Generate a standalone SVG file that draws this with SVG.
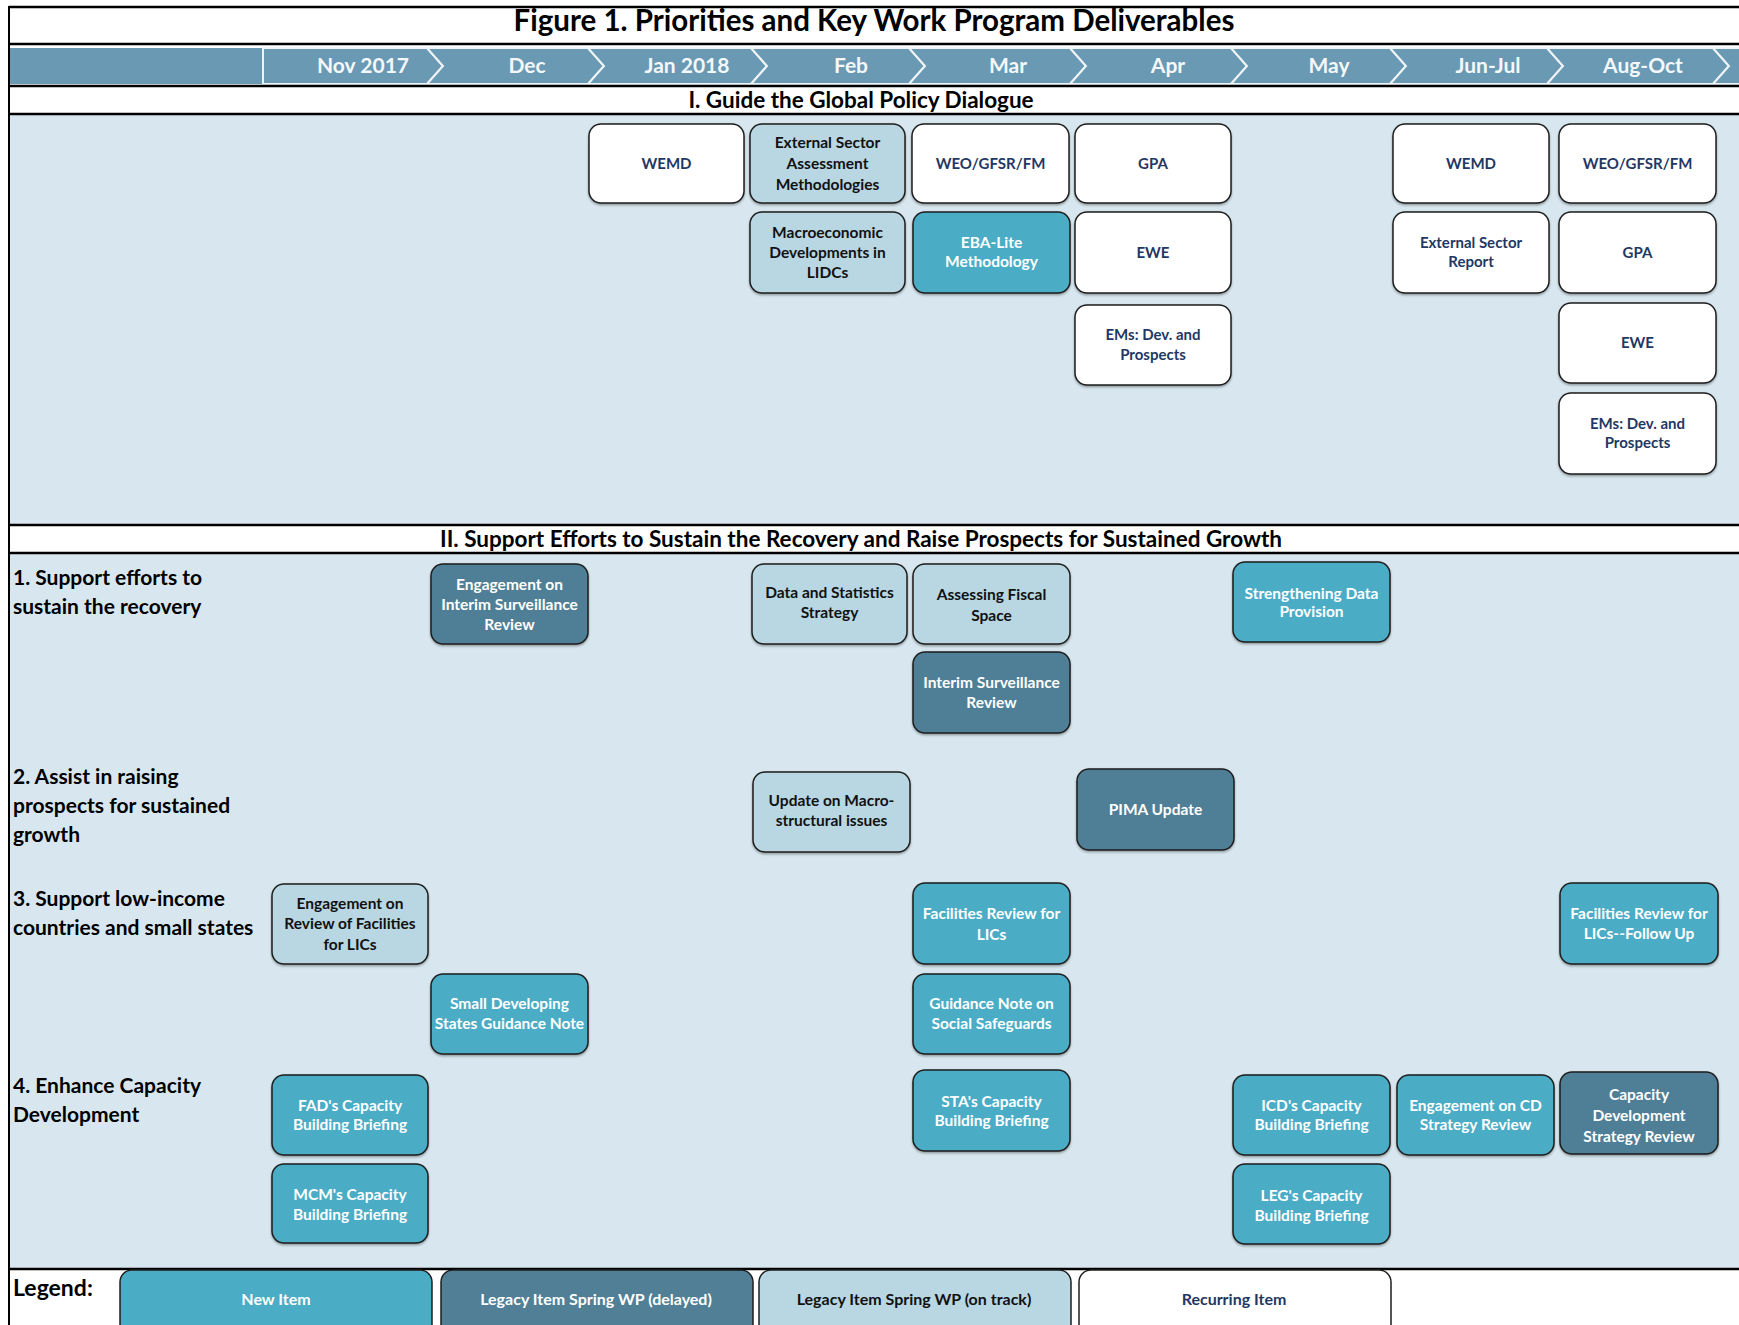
<svg xmlns="http://www.w3.org/2000/svg" width="1739" height="1325" viewBox="0 0 1739 1325">
<style>
text{font-family:Lato,"Open Sans","Liberation Sans",sans-serif;font-weight:bold}
.ttl{font-size:29.5px;fill:#000}
.mon{font-size:21px;fill:#f4f8fa;text-anchor:middle}
.sec{font-size:22.5px;fill:#000;text-anchor:middle}
.row{font-size:21px;fill:#000}
.box{stroke:#1e1e1e;stroke-width:1.5}
.new{fill:#4bacc6}
.del{fill:#507f96}
.ont{fill:#b8d7e2}
.rec{fill:#ffffff}
.lb{font-size:15.5px;text-anchor:middle}
.tw{fill:#ffffff}
.tk{fill:#111111}
.tn{fill:#1f3864;font-size:15px}
.leg{font-size:16px;text-anchor:middle}
.chev{fill:#6a99b3;stroke:#eef4f7;stroke-width:2}
.ln{stroke:#000;stroke-width:2.5;fill:none}
</style>
<defs>
<filter id="sh" x="-5%" y="-5%" width="110%" height="115%">
<feDropShadow dx="0" dy="1.5" stdDeviation="0.8" flood-color="#000" flood-opacity="0.35"/>
</filter>
</defs>
<g id="background">
<rect x="0" y="0" width="1739" height="1325" fill="#ffffff"/>
<rect x="9" y="115" width="1730" height="410" fill="#d8e7ef"/>
<rect x="9" y="553" width="1730" height="716" fill="#d8e7ef"/>
</g>
<g id="month-bar">
<rect x="9" y="48" width="254" height="36" fill="#6a99b3"/>
<polygon class="chev" points="263,48 427,48 443,66 427,84 263,84"/>
<polygon class="chev" points="427,48 588,48 604,66 588,84 427,84 443,66"/>
<polygon class="chev" points="588,48 751,48 767,66 751,84 588,84 604,66"/>
<polygon class="chev" points="751,48 909,48 925,66 909,84 751,84 767,66"/>
<polygon class="chev" points="909,48 1070,48 1086,66 1070,84 909,84 925,66"/>
<polygon class="chev" points="1070,48 1231,48 1247,66 1231,84 1070,84 1086,66"/>
<polygon class="chev" points="1231,48 1390,48 1406,66 1390,84 1231,84 1247,66"/>
<polygon class="chev" points="1390,48 1547,48 1563,66 1547,84 1390,84 1406,66"/>
<polygon class="chev" points="1547,48 1713,48 1729,66 1713,84 1547,84 1563,66"/>
<polygon class="chev" points="1713,48 1745,48 1745,84 1713,84 1729,66"/>
<text class="mon" x="363" y="73">Nov 2017</text>
<text class="mon" x="527" y="73">Dec</text>
<text class="mon" x="687" y="73">Jan 2018</text>
<text class="mon" x="851" y="73">Feb</text>
<text class="mon" x="1008" y="73">Mar</text>
<text class="mon" x="1168" y="73">Apr</text>
<text class="mon" x="1329" y="73">May</text>
<text class="mon" x="1488" y="73">Jun-Jul</text>
<text class="mon" x="1643" y="73">Aug-Oct</text>
</g>
<g id="frame">
<line class="ln" x1="9" y1="7" x2="1739" y2="7"/>
<line class="ln" x1="9" y1="44" x2="1739" y2="44"/>
<line class="ln" x1="9" y1="86" x2="1739" y2="86"/>
<line class="ln" x1="9" y1="114" x2="1739" y2="114"/>
<line class="ln" x1="9" y1="525" x2="1739" y2="525"/>
<line class="ln" x1="9" y1="553" x2="1739" y2="553"/>
<line class="ln" x1="9" y1="1269" x2="1739" y2="1269"/>
<line x1="9" y1="6" x2="9" y2="1325" stroke="#000" stroke-width="2"/>
</g>
<g id="headers">
<text class="ttl" x="874" y="31" text-anchor="middle">Figure 1. Priorities and Key Work Program Deliverables</text>
<text class="sec" x="861" y="108">I. Guide the Global Policy Dialogue</text>
<text class="sec" x="861" y="547">II. Support Efforts to Sustain the Recovery and Raise Prospects for Sustained Growth</text>
</g>
<g id="row-labels">
<text class="row" x="13" y="585">1. Support efforts to</text>
<text class="row" x="13" y="614">sustain the recovery</text>
<text class="row" x="13" y="784">2. Assist in raising</text>
<text class="row" x="13" y="813">prospects for sustained</text>
<text class="row" x="13" y="842">growth</text>
<text class="row" x="13" y="906">3. Support low-income</text>
<text class="row" x="13" y="935">countries and small states</text>
<text class="row" x="13" y="1093">4. Enhance Capacity</text>
<text class="row" x="13" y="1122">Development</text>
</g>
<g id="nodes">
<g id="n1"><rect class="box rec" filter="url(#sh)" x="589" y="124" width="155" height="79" rx="12"/><text class="lb tn" x="666.5" y="168.5">WEMD</text></g>
<g id="n2"><rect class="box ont" filter="url(#sh)" x="750" y="124" width="155" height="79" rx="12"/><text class="lb tk" x="827.5" y="148">External Sector</text><text class="lb tk" x="827.5" y="169">Assessment</text><text class="lb tk" x="827.5" y="190">Methodologies</text></g>
<g id="n3"><rect class="box rec" filter="url(#sh)" x="912" y="124" width="157" height="79" rx="12"/><text class="lb tn" x="990.5" y="168.5">WEO/GFSR/FM</text></g>
<g id="n4"><rect class="box rec" filter="url(#sh)" x="1075" y="124" width="156" height="79" rx="12"/><text class="lb tn" x="1153" y="168.5">GPA</text></g>
<g id="n5"><rect class="box rec" filter="url(#sh)" x="1393" y="124" width="156" height="79" rx="12"/><text class="lb tn" x="1471" y="168.5">WEMD</text></g>
<g id="n6"><rect class="box rec" filter="url(#sh)" x="1559" y="124" width="157" height="79" rx="12"/><text class="lb tn" x="1637.5" y="168.5">WEO/GFSR/FM</text></g>
<g id="n7"><rect class="box ont" filter="url(#sh)" x="750" y="212" width="155" height="81" rx="12"/><text class="lb tk" x="827.5" y="238">Macroeconomic</text><text class="lb tk" x="827.5" y="257.5">Developments in</text><text class="lb tk" x="827.5" y="277.5">LIDCs</text></g>
<g id="n8"><rect class="box new" filter="url(#sh)" x="913" y="212" width="157" height="81" rx="12"/><text class="lb tw" x="991.5" y="248">EBA-Lite</text><text class="lb tw" x="991.5" y="267">Methodology</text></g>
<g id="n9"><rect class="box rec" filter="url(#sh)" x="1075" y="212" width="156" height="81" rx="12"/><text class="lb tn" x="1153" y="257.5">EWE</text></g>
<g id="n10"><rect class="box rec" filter="url(#sh)" x="1393" y="212" width="156" height="81" rx="12"/><text class="lb tn" x="1471" y="248">External Sector</text><text class="lb tn" x="1471" y="267">Report</text></g>
<g id="n11"><rect class="box rec" filter="url(#sh)" x="1559" y="212" width="157" height="81" rx="12"/><text class="lb tn" x="1637.5" y="257.5">GPA</text></g>
<g id="n12"><rect class="box rec" filter="url(#sh)" x="1075" y="305" width="156" height="80" rx="12"/><text class="lb tn" x="1153" y="340">EMs: Dev. and</text><text class="lb tn" x="1153" y="360">Prospects</text></g>
<g id="n13"><rect class="box rec" filter="url(#sh)" x="1559" y="303" width="157" height="80" rx="12"/><text class="lb tn" x="1637.5" y="348">EWE</text></g>
<g id="n14"><rect class="box rec" filter="url(#sh)" x="1559" y="393" width="157" height="81" rx="12"/><text class="lb tn" x="1637.5" y="429">EMs: Dev. and</text><text class="lb tn" x="1637.5" y="447.5">Prospects</text></g>
<g id="n15"><rect class="box del" filter="url(#sh)" x="431" y="564" width="157" height="80" rx="12"/><text class="lb tw" x="509.5" y="589.5">Engagement on</text><text class="lb tw" x="509.5" y="609.5">Interim Surveillance</text><text class="lb tw" x="509.5" y="629.5">Review</text></g>
<g id="n16"><rect class="box ont" filter="url(#sh)" x="752" y="564" width="155" height="80" rx="12"/><text class="lb tk" x="829.5" y="598">Data and Statistics</text><text class="lb tk" x="829.5" y="618">Strategy</text></g>
<g id="n17"><rect class="box ont" filter="url(#sh)" x="913" y="564" width="157" height="80" rx="12"/><text class="lb tk" x="991.5" y="599.5">Assessing Fiscal</text><text class="lb tk" x="991.5" y="620.5">Space</text></g>
<g id="n18"><rect class="box new" filter="url(#sh)" x="1233" y="562" width="157" height="80" rx="12"/><text class="lb tw" x="1311.5" y="598.5">Strengthening Data</text><text class="lb tw" x="1311.5" y="617">Provision</text></g>
<g id="n19"><rect class="box del" filter="url(#sh)" x="913" y="652" width="157" height="81" rx="12"/><text class="lb tw" x="991.5" y="688">Interim Surveillance</text><text class="lb tw" x="991.5" y="708">Review</text></g>
<g id="n20"><rect class="box ont" filter="url(#sh)" x="753" y="772" width="157" height="80" rx="12"/><text class="lb tk" x="831.5" y="806">Update on Macro-</text><text class="lb tk" x="831.5" y="826">structural issues</text></g>
<g id="n21"><rect class="box del" filter="url(#sh)" x="1077" y="769" width="157" height="81" rx="12"/><text class="lb tw" x="1155.5" y="814.5">PIMA Update</text></g>
<g id="n22"><rect class="box ont" filter="url(#sh)" x="272" y="884" width="156" height="80" rx="12"/><text class="lb tk" x="350" y="909">Engagement on</text><text class="lb tk" x="350" y="929">Review of Facilities</text><text class="lb tk" x="350" y="950">for LICs</text></g>
<g id="n23"><rect class="box new" filter="url(#sh)" x="913" y="883" width="157" height="81" rx="12"/><text class="lb tw" x="991.5" y="919">Facilities Review for</text><text class="lb tw" x="991.5" y="940">LICs</text></g>
<g id="n24"><rect class="box new" filter="url(#sh)" x="1560" y="883" width="158" height="81" rx="12"/><text class="lb tw" x="1639" y="919">Facilities Review for</text><text class="lb tw" x="1639" y="939">LICs--Follow Up</text></g>
<g id="n25"><rect class="box new" filter="url(#sh)" x="431" y="974" width="157" height="80" rx="12"/><text class="lb tw" x="509.5" y="1009">Small Developing</text><text class="lb tw" x="509.5" y="1029">States Guidance Note</text></g>
<g id="n26"><rect class="box new" filter="url(#sh)" x="913" y="974" width="157" height="80" rx="12"/><text class="lb tw" x="991.5" y="1009">Guidance Note on</text><text class="lb tw" x="991.5" y="1029">Social Safeguards</text></g>
<g id="n27"><rect class="box new" filter="url(#sh)" x="272" y="1075" width="156" height="80" rx="12"/><text class="lb tw" x="350" y="1111">FAD's Capacity</text><text class="lb tw" x="350" y="1130">Building Briefing</text></g>
<g id="n28"><rect class="box new" filter="url(#sh)" x="913" y="1070" width="157" height="81" rx="12"/><text class="lb tw" x="991.5" y="1107">STA's Capacity</text><text class="lb tw" x="991.5" y="1126">Building Briefing</text></g>
<g id="n29"><rect class="box new" filter="url(#sh)" x="1233" y="1075" width="157" height="80" rx="12"/><text class="lb tw" x="1311.5" y="1111">ICD's Capacity</text><text class="lb tw" x="1311.5" y="1130">Building Briefing</text></g>
<g id="n30"><rect class="box new" filter="url(#sh)" x="1397" y="1075" width="157" height="80" rx="12"/><text class="lb tw" x="1475.5" y="1111">Engagement on CD</text><text class="lb tw" x="1475.5" y="1130">Strategy Review</text></g>
<g id="n31"><rect class="box del" filter="url(#sh)" x="1560" y="1072" width="158" height="82" rx="12"/><text class="lb tw" x="1639" y="1099.5">Capacity</text><text class="lb tw" x="1639" y="1120.5">Development</text><text class="lb tw" x="1639" y="1142">Strategy Review</text></g>
<g id="n32"><rect class="box new" filter="url(#sh)" x="272" y="1164" width="156" height="79" rx="12"/><text class="lb tw" x="350" y="1199.5">MCM's Capacity</text><text class="lb tw" x="350" y="1219.5">Building Briefing</text></g>
<g id="n33"><rect class="box new" filter="url(#sh)" x="1233" y="1164" width="157" height="80" rx="12"/><text class="lb tw" x="1311.5" y="1200.5">LEG's Capacity</text><text class="lb tw" x="1311.5" y="1220.5">Building Briefing</text></g>
</g>
<g id="connectors"></g>
<g id="legend">
<text x="13" y="1296" style="font-size:23px;fill:#000">Legend:</text>
<g id="leg-new"><rect class="box new" x="120" y="1270" width="312" height="70" rx="12"/><text class="leg tw" x="276" y="1305">New Item</text></g>
<g id="leg-delayed"><rect class="box del" x="441" y="1270" width="312" height="70" rx="12"/><text class="leg tw" x="596" y="1305">Legacy Item Spring WP (delayed)</text></g>
<g id="leg-ontrack"><rect class="box ont" x="759" y="1270" width="312" height="70" rx="12"/><text class="leg tk" x="914" y="1305">Legacy Item Spring WP (on track)</text></g>
<g id="leg-recurring"><rect class="box rec" x="1079" y="1270" width="312" height="70" rx="12"/><text class="leg tn" x="1234" y="1305" style="font-size:16px">Recurring Item</text></g>
</g>
</svg>
